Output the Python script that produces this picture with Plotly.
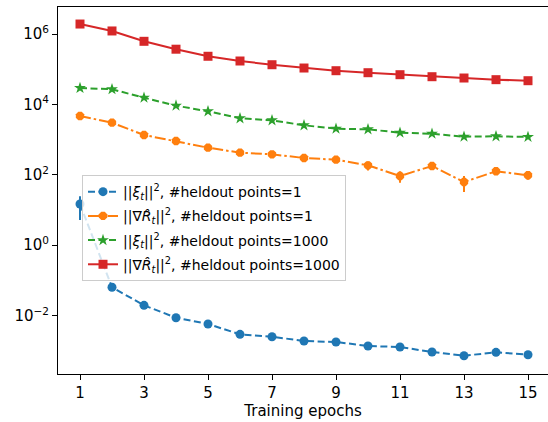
import plotly.graph_objects as go

epochs = list(range(1, 16))

xi_1 = [14.8, 0.0637, 0.0196, 0.0087, 0.00577, 0.00294, 0.00251, 0.0019,
        0.00178, 0.00137, 0.00128, 0.000925, 0.000726, 0.000906, 0.000775]
xi_1_err = [9.6, 0.004, 0.001, 0.0005, 0.0003, 0.0002, 0.0001, 0.0001,
            0.0001, 0.0001, 0.0001, 0.00005, 0.00005, 0.00005, 0.00005]

grad_1 = [4680, 3020, 1350, 912, 589, 425, 382, 300, 269, 186, 92.5, 178, 62.4, 126, 96.9]
grad_1_err = [250, 180, 80, 60, 40, 30, 25, 20, 20, 54, 33, 12, 30, 28, 25]

xi_1000 = [29200, 26900, 15500, 9200, 6370, 4030, 3530, 2550, 2040, 1960,
           1570, 1470, 1210, 1240, 1190]
grad_1000 = [1.92e6, 1.22e6, 6.2e5, 3.7e5, 2.33e5, 1.71e5, 1.34e5, 1.08e5,
             9.06e4, 7.95e4, 6.98e4, 6.12e4, 5.62e4, 5.04e4, 4.71e4]

names = [
    "||<i>ξ</i><sub><i>t</i></sub>||<sup>2</sup>, #heldout points=1",
    "||∇<i>R̂</i><sub><i>t</i></sub>||<sup>2</sup>, #heldout points=1",
    "||<i>ξ</i><sub><i>t</i></sub>||<sup>2</sup>, #heldout points=1000",
    "||∇<i>R̂</i><sub><i>t</i></sub>||<sup>2</sup>, #heldout points=1000",
]

ytick_vals = [1e-2, 1, 1e2, 1e4, 1e6]
ytick_text = ["10<sup>−2</sup>", "10<sup>0</sup>", "10<sup>2</sup>", "10<sup>4</sup>", "10<sup>6</sup>"]
xtick_vals = [1, 3, 5, 7, 9, 11, 13, 15]

fig = go.Figure()

series = [
    (xi_1, xi_1_err, "#1f77b4", "7px,3.5px", "circle", 9),
    (grad_1, grad_1_err, "#ff7f0e", "11px,3px,2.5px,3px", "octagon", 9),
    (xi_1000, None, "#2ca02c", "7px,3.5px", "star", 9),
    (grad_1000, None, "#d62728", "solid", "square", 9),
]

for i, ((vals, err, color, dash, sym, size), name) in enumerate(zip(series, names)):
    fig.add_trace(go.Scatter(
        x=epochs, y=vals, name=name, mode="lines+markers",
        legendgroup=f"g{i}",
        line=dict(color=color, width=2, dash=dash),
        marker=dict(symbol=sym, size=size, color=color),
        error_y=dict(type="data", array=err, visible=err is not None,
                     color=color, thickness=2, width=0),
    ))

fig.update_layout(
    width=548, height=422,
    margin=dict(l=58, r=0, t=7, b=48),
    plot_bgcolor="white", paper_bgcolor="white",
    font=dict(family="DejaVu Sans", color="black", size=15),
    showlegend=True,
    legend=dict(
        x=0.049, y=0.542, xanchor="left", yanchor="top",
        bgcolor="rgba(255,255,255,0.8)", bordercolor="#cccccc", borderwidth=1,
        font=dict(size=14, family="DejaVu Sans"),
        tracegroupgap=3, itemwidth=30,
    ),
)

fig.update_xaxes(
    range=[0.3125, 15.625], tickvals=xtick_vals, automargin=False,
    showline=True, linecolor="black", linewidth=1, mirror=True,
    ticks="outside", ticklen=5, tickcolor="black",
    showgrid=False, zeroline=False,
    title=dict(text="Training epochs", font=dict(size=15), standoff=4),
    tickfont=dict(size=15),
)
fig.update_yaxes(
    type="log", range=[-3.659, 6.767], automargin=False,
    tickvals=ytick_vals, ticktext=ytick_text,
    showline=True, linecolor="black", linewidth=1,
    ticks="outside", ticklen=5, tickcolor="black",
    showgrid=False, zeroline=False,
    tickfont=dict(size=15),
)

fig.write_html(
    "out.html",
    config={"displayModeBar": False},
    post_script="document.body.style.margin='0';document.body.style.overflow='hidden';",
)
